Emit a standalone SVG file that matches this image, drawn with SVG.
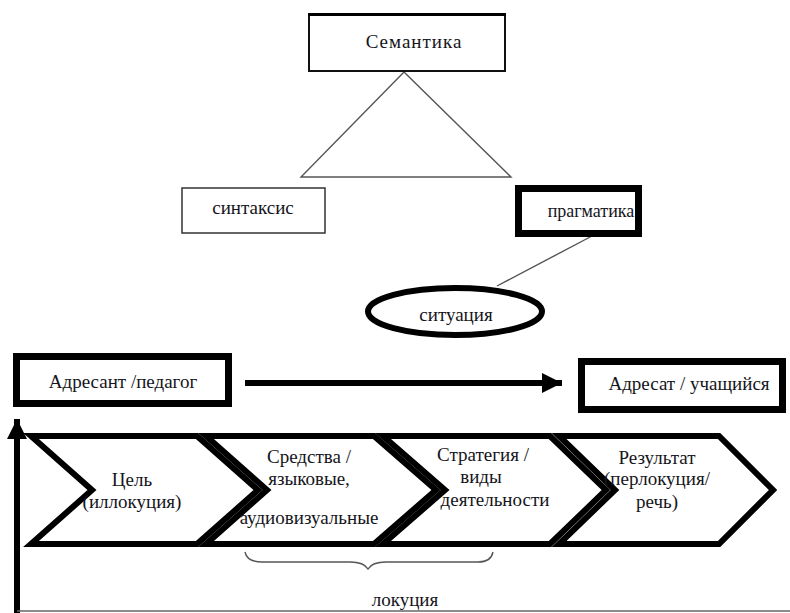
<svg xmlns="http://www.w3.org/2000/svg" width="790" height="613" viewBox="0 0 790 613">
<style>
text{font-family:'Liberation Serif','DejaVu Serif',serif;font-size:19px;fill:#151520;text-anchor:middle}
.thin{fill:#fff;stroke:#333;stroke-width:1.5}
.thick{fill:#fff;stroke:#000;stroke-width:7}
.chev{fill:#fff;stroke:#000;stroke-width:6;stroke-linejoin:miter}
.gray{fill:none;stroke:#555;stroke-width:1.4}
</style>
<defs>
<marker id="ah" viewBox="0 0 10 10" refX="10" refY="5" markerWidth="3.4" markerHeight="3.4" markerUnits="strokeWidth" orient="auto">
<path d="M0,0 L10,5 L0,10 Z" fill="#000"/>
</marker>
</defs>
<rect width="790" height="613" fill="#fff"/>

<g id="connectors">
<polygon class="gray" points="404,72 301,177 511,177"/>
<line class="gray" x1="592" y1="236" x2="497" y2="286"/>
<line x1="245" y1="383" x2="562" y2="383" stroke="#000" stroke-width="6" marker-end="url(#ah)"/>
<line x1="17" y1="613" x2="17" y2="419" stroke="#000" stroke-width="6" marker-end="url(#ah)"/>
<line x1="17" y1="611" x2="790" y2="611" stroke="#666" stroke-width="1.5"/>
<path class="gray" d="M245,552 Q247,562 262,562 L350,562 Q364,562 368,569 Q372,562 386,562 L478,562 Q491,562 493,552"/>
</g>

<g id="semantika">
<rect x="309" y="14" width="196" height="57" fill="#fff" stroke="#111" stroke-width="2"/>
<line x1="308" y1="14.5" x2="506" y2="14.5" stroke="#000" stroke-width="3"/>
<text x="414" y="48" style="letter-spacing:1px">Семантика</text>
</g>

<g id="sintaksis">
<rect class="thin" x="182" y="188" width="143" height="45"/>
<text x="253" y="214">синтаксис</text>
</g>

<g id="pragmatika">
<rect class="thick" x="518.5" y="188.5" width="120" height="45"/>
<text x="591" y="217" style="font-size:18px">прагматика</text>
</g>

<g id="situatsiya">
<ellipse cx="455" cy="311.5" rx="87" ry="23.5" fill="#fff" stroke="#000" stroke-width="6"/>
<text x="456" y="321">ситуация</text>
</g>

<g id="adresant">
<rect class="thick" x="16.5" y="356.5" width="212" height="47"/>
<text x="123" y="388">Адресант /педагог</text>
</g>

<g id="adresat">
<rect class="thick" x="581.5" y="361.5" width="201" height="48"/>
<text x="689" y="390">Адресат / учащийся</text>
</g>

<g id="tsel">
<polygon class="chev" points="31,436 197,436 258,490 197,544 31,544 92,490"/>
<text x="132" y="486">Цель</text>
<text x="132" y="508">(иллокуция)</text>
</g>

<g id="sredstva">
<polygon class="chev" points="206,436 374,436 436,490 374,544 206,544 267,490"/>
<text x="309" y="463">Средства /</text>
<text x="309" y="485">языковые,</text>
<text x="309" y="524">аудиовизуальные</text>
</g>

<g id="strategiya">
<polygon class="chev" points="383,436 550,436 606,490 550,544 383,544 445,490"/>
<text x="483" y="461">Стратегия /</text>
<text x="481" y="483">виды</text>
<text x="495" y="506">деятельности</text>
</g>

<g id="rezultat">
<polygon class="chev" points="559,436 719,436 773,490 719,544 559,544 615,490"/>
<text x="657" y="464">Результат</text>
<text x="657" y="485">(перлокуция/</text>
<text x="657" y="508">речь)</text>
</g>

<g id="lokutsiya">
<text x="405" y="606">локуция</text>
</g>
</svg>
